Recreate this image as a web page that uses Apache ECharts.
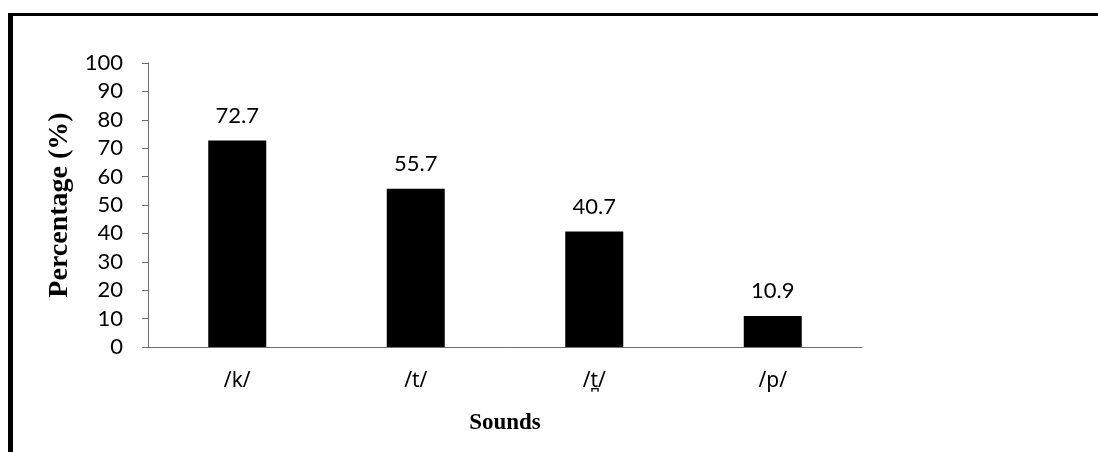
<!DOCTYPE html>
<html>
<head>
<meta charset="utf-8">
<script src="https://cdn.jsdelivr.net/npm/echarts@6/dist/echarts.min.js"></script>
<style>
html,body{margin:0;padding:0;background:#fff;}
#c{width:1098px;height:452px;}
</style>
</head>
<body>
<div id="c"></div>
<script>
const categories = ['/k/', '/t/', '/t̪/', '/p/'];
const percentages = [72.7, 55.7, 40.7, 10.9];
const yTicks = [0, 10, 20, 30, 40, 50, 60, 70, 80, 90, 100];

const chart = echarts.init(document.getElementById('c'), null, {renderer: 'canvas'});
chart.setOption({
  backgroundColor: '#fff',
  animation: false,
  graphic: [
    {type: 'line', shape: {x1: 8, y1: 14.5, x2: 1098, y2: 14.5}, style: {stroke: '#000', lineWidth: 3}},
    {type: 'line', shape: {x1: 10.5, y1: 13, x2: 10.5, y2: 452}, style: {stroke: '#000', lineWidth: 5}}
  ],
  grid: {left: 148, top: 63, width: 714, height: 284, containLabel: false},
  xAxis: {
    type: 'category',
    data: categories,
    name: 'Sounds',
    nameLocation: 'middle',
    nameGap: 65,
    nameTextStyle: {fontFamily: 'Liberation Serif', fontWeight: 'bold', fontSize: 23, color: '#000'},
    axisLine: {lineStyle: {color: '#6e6e6e', width: 1}},
    axisTick: {show: false},
    axisLabel: {margin: 24, fontFamily: 'Noto Sans', fontSize: 21, color: '#000'}
  },
  yAxis: {
    type: 'value',
    min: yTicks[0],
    max: yTicks[yTicks.length - 1],
    interval: yTicks[1] - yTicks[0],
    name: 'Percentage (%)',
    nameLocation: 'middle',
    nameGap: 70,
    nameTextStyle: {fontFamily: 'Liberation Serif', fontWeight: 'bold', fontSize: 28, color: '#000'},
    axisLine: {show: true, lineStyle: {color: '#6e6e6e', width: 1}},
    axisTick: {show: true, length: 6, lineStyle: {color: '#6e6e6e'}},
    splitLine: {show: false},
    axisLabel: {margin: 25, fontFamily: 'Lato', fontSize: 22, color: '#000'}
  },
  series: [{
    type: 'bar',
    barWidth: 58,
    itemStyle: {color: '#000'},
    data: percentages,
    label: {show: true, position: 'top', distance: 14, fontFamily: 'Lato', fontSize: 22, color: '#000'}
  }]
});
</script>
</body>
</html>
